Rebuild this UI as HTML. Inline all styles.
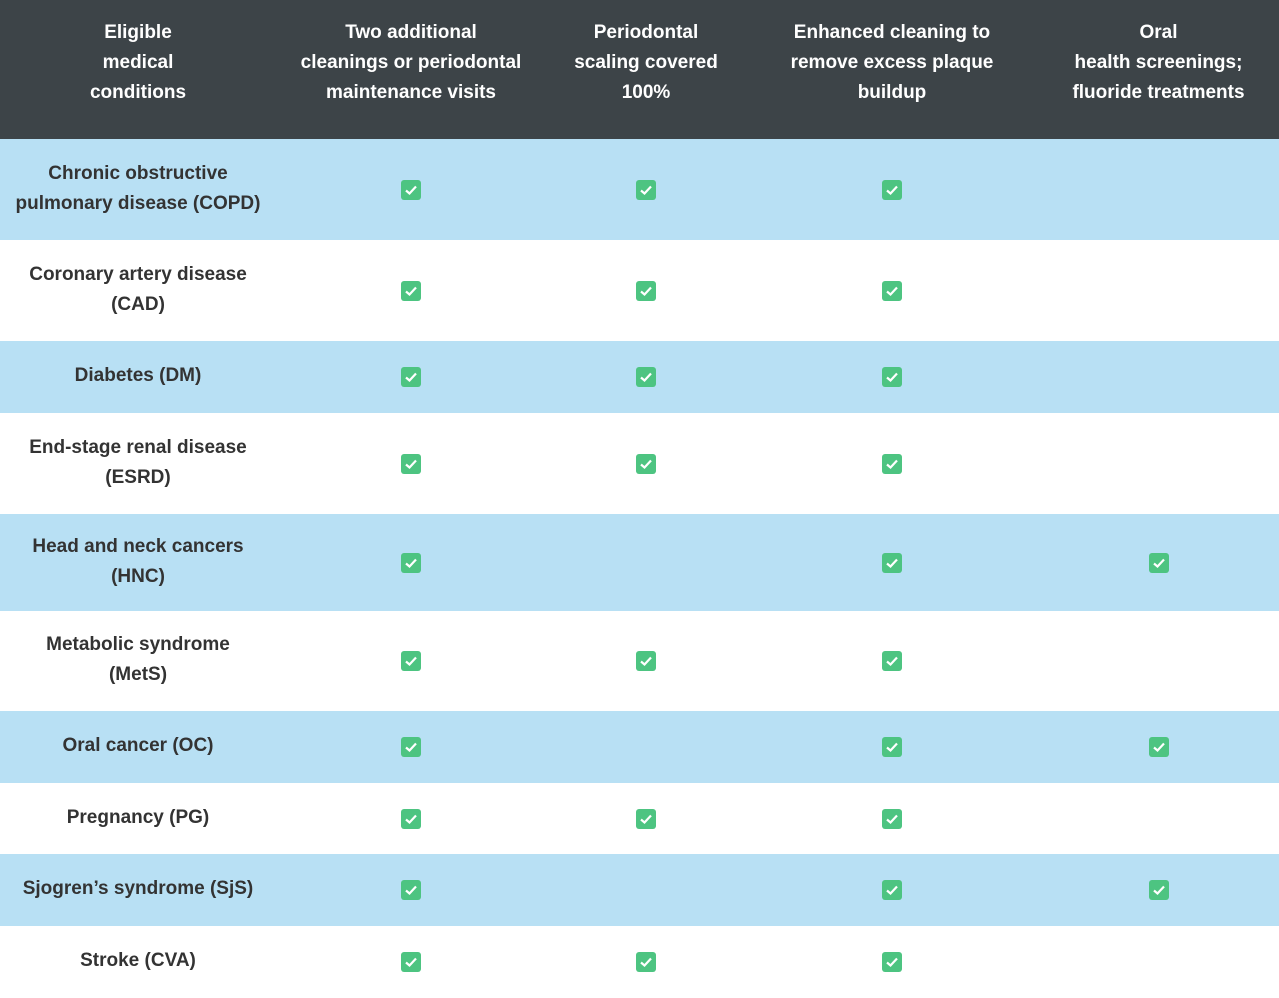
<!DOCTYPE html>
<html><head><meta charset="utf-8"><style>
body{margin:0;width:1279px;height:998px;overflow:hidden;background:#fff;font-family:"Liberation Sans",Arial,sans-serif;font-weight:bold;}
.hdr{position:absolute;left:0;top:0;width:1279px;height:139px;background:#3d4448;}
.row{position:absolute;left:0;width:1279px;}
.blue{background:#b8e0f4;}
.cell{position:absolute;display:flex;align-items:center;justify-content:center;text-align:center;font-size:19px;line-height:30px;}
.hdr .cell{color:#fff;}
.row .cell{color:#333;}
.chk{width:20px;height:20px;border-radius:3px;background:#4dc481;display:flex;align-items:center;justify-content:center;}
</style></head><body>
<div class="hdr"></div>
<div id="t"></div>
<script>
const heads=["Eligible<br>medical<br>conditions","Two additional<br>cleanings or periodontal<br>maintenance visits","Periodontal<br>scaling covered<br>100%","Enhanced cleaning to<br>remove excess plaque<br>buildup","Oral<br>health screenings;<br>fluoride treatments"];
const colL=[0,276,546,746,1038],colW=[276,270,200,292,241];
const rows=[["Chronic obstructive<br>pulmonary disease (COPD)",139,101,[1,1,1,0]],["Coronary artery disease<br>(CAD)",240,101,[1,1,1,0]],["Diabetes (DM)",341,72,[1,1,1,0]],["End-stage renal disease<br>(ESRD)",413,101,[1,1,1,0]],["Head and neck cancers<br>(HNC)",514,97,[1,0,1,1]],["Metabolic syndrome<br>(MetS)",611,100,[1,1,1,0]],["Oral cancer (OC)",711,72,[1,0,1,1]],["Pregnancy (PG)",783,71,[1,1,1,0]],["Sjogren’s syndrome (SjS)",854,72,[1,0,1,1]],["Stroke (CVA)",926,72,[1,1,1,0]]];
const hdr=document.querySelector('.hdr');
heads.forEach((h,i)=>{const c=document.createElement('div');c.className='cell';


c.style.cssText=`left:${colL[i]}px;width:${colW[i]}px;top:0;height:126px;`;c.innerHTML=h;hdr.appendChild(c);});
const t=document.getElementById('t');
rows.forEach((r,ri)=>{const d=document.createElement('div');d.className='row'+(ri%2==0?' blue':'');


d.style.top=r[1]+'px';d.style.height=r[2]+'px';
const c=document.createElement('div');c.className='cell';


c.style.cssText=`left:0;width:276px;top:0;height:${r[2]-2}px;`;c.innerHTML=r[0];d.appendChild(c);
r[3].forEach((v,i)=>{if(!v)return;const e=document.createElement('div');e.className='cell';


e.style.cssText=`left:${colL[i+1]}px;width:${colW[i+1]}px;top:0;height:${r[2]}px;`;
e.innerHTML='<div class="chk"><svg width="14" height="12" viewBox="0 0 14 12"><path d="M2 6.5 L5.5 9.5 L12 2.5" stroke="#fff" stroke-width="2.2" fill="none"/></svg></div>';
d.appendChild(e);});
t.appendChild(d);});
</script>
</body></html>
